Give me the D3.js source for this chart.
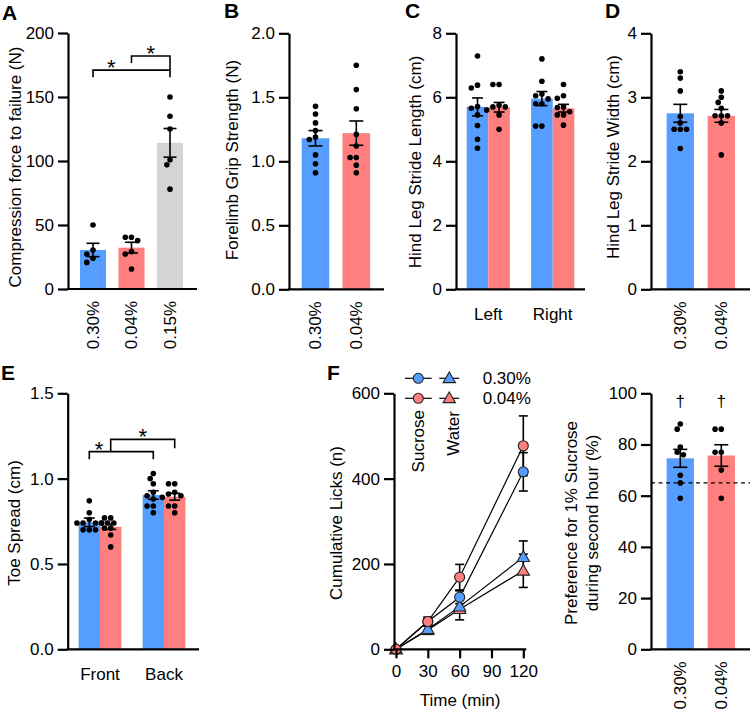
<!DOCTYPE html>
<html><head><meta charset="utf-8">
<script src="https://cdn.jsdelivr.net/npm/d3@7"></script>
<style>
body{margin:0;background:#fff}
svg{display:block}
text{font-family:"Liberation Sans",Arial,Helvetica,sans-serif;fill:#000}
</style>
</head><body>
<svg id="c" width="750" height="712"></svg>
<script>
// ---------------- DATA ----------------
const groupLabels = ["0.30%", "0.04%"];
// Panel A
const aCats = ["0.30%", "0.04%", "0.15%"];
const aMeans = [30.5, 32.3, 114.2];
const aSems = [5.2, 4.2, 11.2];
const aPts030 = [50, 30.5, 27.3, 24, 20.8];
const aPts004 = [40.4, 40.4, 37.8, 29.2, 27.3, 15.6];
const aPts015 = [150, 135, 125, 101, 97, 78];
const aTicks = [0, 50, 100, 150, 200];
// Panel B
const bMeans = [1.18, 1.22];
const bSems = [0.06, 0.095];
const bPts030 = [1.43, 1.37, 1.30, 1.24, 1.19, 1.17, 1.05, 0.98, 0.91];
const bPts004 = [1.75, 1.56, 1.41, 1.21, 1.12, 1.03, 1.03, 0.97, 0.91];
const bTicks = [0, 0.5, 1.0, 1.5, 2.0];
// Panel C
const cGroups = ["Left", "Right"];
const cMeans030 = [5.70, 5.96];
const cSems030 = [0.28, 0.22];
const cMeans004 = [5.69, 5.66];
const cSems004 = [0.15, 0.12];
const cPtsLeft030 = [7.29, 6.38, 6.29, 5.71, 5.66, 5.45, 5.12, 4.69, 4.41];
const cPtsLeft004 = [6.4, 6.4, 5.75, 5.7, 5.7, 5.6, 5.45, 5.0];
const cPtsRight030 = [7.2, 6.5, 6.1, 6.05, 5.95, 5.8, 5.8, 5.1, 5.1];
const cPtsRight004 = [6.4, 6.05, 5.97, 5.7, 5.68, 5.55, 5.45, 5.45, 5.13];
const cTicks = [0, 2, 4, 6, 8];
// Panel D
const dMeans = [2.75, 2.71];
const dSems = [0.14, 0.10];
const dPts030 = [3.4, 3.3, 3.1, 2.7, 2.6, 2.5, 2.5, 2.5, 2.2];
const dPts004 = [3.1, 3.0, 2.92, 2.83, 2.71, 2.71, 2.71, 2.6, 2.1];
const dTicks = [0, 1, 2, 3, 4];
// Panel E
const eGroups = ["Front", "Back"];
const eMeans030 = [0.744, 0.904];
const eSems030 = [0.025, 0.025];
const eMeans004 = [0.718, 0.894];
const eSems004 = [0.015, 0.02];
const ePtsFront030 = [0.87, 0.80, 0.76, 0.74, 0.74, 0.74, 0.74, 0.70, 0.70, 0.70];
const ePtsFront004 = [0.77, 0.77, 0.74, 0.74, 0.74, 0.71, 0.71, 0.67, 0.60];
const ePtsBack030 = [1.03, 1.0, 0.97, 0.92, 0.90, 0.88, 0.84, 0.84, 0.80];
const ePtsBack004 = [0.97, 0.97, 0.92, 0.91, 0.90, 0.89, 0.84, 0.84, 0.80];
const eTicks = [0, 0.5, 1.0, 1.5];
// Panel F (left)
const fTimes = [0, 30, 60, 120];
const sucrose030 = [0, 65, 122, 416];
const sucrose030Sem = [0, 10, 15, 45];
const sucrose004 = [0, 65, 169, 477];
const sucrose004Sem = [0, 10, 30, 70];
const water030 = [0, 47, 100, 216];
const water030Sem = [0, 10, 15, 38];
const water004 = [0, 45, 94, 184];
const water004Sem = [0, 10, 25, 39];
const fYTicks = [0, 200, 400, 600];
const fXTicks = [0, 30, 60, 90, 120];
// Panel F (right)
const pMeans = [74.6, 75.7];
const pSems = [3.5, 4.2];
const pPts030 = [88, 86, 79, 77, 76, 68, 65, 59];
const pPts004 = [86, 86, 77, 77, 70, 59];
const pChance = 65;
const pTicks = [0, 20, 40, 60, 80, 100];

// ---------------- STYLE ----------------
const BLUE = "#559dff", PINK = "#ff7f7f", GRAY = "#d4d4d4";
const FONT = '"Liberation Sans",Arial,Helvetica,sans-serif';
const FS = 17, AXW = 2.2, R = 2.8;
const svg = d3.select("#c");

function yAxis(x, scale, ticks, fmt) {
  const g = svg.append("g").attr("transform", `translate(${x},0)`)
    .call(d3.axisLeft(scale).tickValues(ticks).tickFormat(fmt).tickSize(10).tickPadding(4).tickSizeOuter(0));
  g.attr("font-family", FONT).attr("font-size", FS);
  g.select(".domain").attr("stroke-width", AXW).attr("stroke", "#000");
  g.selectAll(".tick line").attr("stroke-width", AXW).attr("stroke", "#000");
  g.selectAll(".tick text").attr("fill", "#000");
  return g;
}
function xLine(x0, x1, y) {
  svg.append("line").attr("x1", x0 - 1).attr("x2", x1).attr("y1", y).attr("y2", y)
    .attr("stroke", "#000").attr("stroke-width", AXW);
}
function yTitle(x, y, lines) {
  const t = svg.append("text").attr("transform", `translate(${x},${y}) rotate(-90)`)
    .attr("text-anchor", "middle").attr("font-size", FS);
  lines.forEach((l, i) => t.append("tspan").attr("x", 0).attr("dy", i === 0 ? (0.35 - (lines.length - 1) * 0.62) + "em" : "1.24em").text(l));
}
function letter(s, x, y) {
  svg.append("text").attr("x", x).attr("y", y).attr("font-size", 21).attr("font-weight", "bold").text(s);
}
function bar(cx, w, ys, v, color) {
  svg.append("rect").attr("x", cx - w / 2).attr("width", w)
    .attr("y", ys(v)).attr("height", ys(0) - ys(v)).attr("fill", color);
}
function err(cx, ys, m, s, cw) {
  const g = svg.append("g").attr("stroke", "#000").attr("stroke-width", 1.6);
  g.append("line").attr("x1", cx).attr("x2", cx).attr("y1", ys(m - s)).attr("y2", ys(m + s));
  [m - s, m + s].forEach(v => g.append("line").attr("x1", cx - cw / 2).attr("x2", cx + cw / 2).attr("y1", ys(v)).attr("y2", ys(v)));
}
function dots(cx, ys, vals) {
  const placed = [];
  const d = 2 * R + 0.6;
  const sorted = vals.slice().sort((a, b) => b - a);
  const cands = [0];
  for (let k = 1; k < 12; k++) { cands.push(-k * d / 2, k * d / 2); }
  sorted.forEach(v => {
    const y = ys(v);
    let off = 0;
    for (const c of cands) {
      if (placed.every(p => Math.hypot(p.x - c, p.y - y) >= 2 * R + 0.3)) { off = c; break; }
    }
    placed.push({ x: off, y: y });
  });
  svg.append("g").selectAll("circle").data(placed).join("circle")
    .attr("cx", p => cx + p.x).attr("cy", p => p.y).attr("r", R).attr("fill", "#000");
}
function rotLabel(x, y, s) {
  svg.append("text").attr("transform", `translate(${x},${y}) rotate(-90)`)
    .attr("text-anchor", "end").attr("dy", "0.35em").attr("font-size", FS).text(s);
}
function star(x, y) {
  svg.append("text").attr("x", x).attr("y", y).attr("text-anchor", "middle").attr("font-size", 22).text("*");
}
function path(pts) {
  svg.append("path").attr("d", d3.line()(pts)).attr("fill", "none").attr("stroke", "#000").attr("stroke-width", 1.6);
}

// ---------------- PANEL A ----------------
{
  const ys = d3.scaleLinear().domain([0, 200]).range([289, 33]);
  const xs = d3.scalePoint().domain(aCats).range([93, 170]);
  const W = 26, cols = [BLUE, PINK, GRAY], pts = [aPts030, aPts004, aPts015];
  aCats.forEach((c, i) => bar(xs(c), W, ys, aMeans[i], cols[i]));
  aCats.forEach((c, i) => dots(xs(c), ys, pts[i]));
  aCats.forEach((c, i) => err(xs(c), ys, aMeans[i], aSems[i], 13));
  xLine(68, 197, ys(0));
  yAxis(68, ys, aTicks, d3.format("d"));
  aCats.forEach(c => rotLabel(xs(c), ys(0) + 12, c));
  yTitle(15, 167, ["Compression force to failure (N)"]);
  letter("A", 2, 20);
  // significance brackets
  const x0 = xs(aCats[0]), x1 = xs(aCats[1]), x2 = xs(aCats[2]);
  const xm = (x0 + x2) / 2;
  path([[x0, ys(165.5)], [x0, ys(171)], [x2, ys(171)], [x2, ys(165.5)]]);
  path([[xm, ys(176.5)], [xm, ys(182)], [x2, ys(182)], [x2, ys(171)]]);
  star((x0 + xm) / 2 - 1, ys(171) + 5);
  star((xm + x2) / 2, ys(182) + 4.5);
}

// ---------------- PANEL B ----------------
{
  const ys = d3.scaleLinear().domain([0, 2]).range([289.3, 33.3]);
  const xs = d3.scalePoint().domain(groupLabels).range([315.5, 356.3]);
  const W = 27.6, cols = [BLUE, PINK], pts = [bPts030, bPts004];
  groupLabels.forEach((c, i) => bar(xs(c), W, ys, bMeans[i], cols[i]));
  groupLabels.forEach((c, i) => dots(xs(c), ys, pts[i]));
  groupLabels.forEach((c, i) => err(xs(c), ys, bMeans[i], bSems[i], 14));
  xLine(289, 384, ys(0));
  yAxis(289, ys, bTicks, d3.format(".1f"));
  groupLabels.forEach(c => rotLabel(xs(c), ys(0) + 12, c));
  yTitle(232.5, 160, ["Forelimb Grip Strength (N)"]);
  letter("B", 224, 18);
}

// ---------------- PANEL C ----------------
{
  const ys = d3.scaleLinear().domain([0, 8]).range([289.3, 33.3]);
  const xg = d3.scalePoint().domain(cGroups).range([488.3, 552.7]);
  const W = 21.6, off = W / 2;
  const m030 = cMeans030, m004 = cMeans004;
  const p030 = [cPtsLeft030, cPtsRight030], p004 = [cPtsLeft004, cPtsRight004];
  cGroups.forEach((g, i) => { bar(xg(g) - off, W, ys, m030[i], BLUE); bar(xg(g) + off, W, ys, m004[i], PINK); });
  cGroups.forEach((g, i) => { dots(xg(g) - off, ys, p030[i]); dots(xg(g) + off, ys, p004[i]); });
  cGroups.forEach((g, i) => { err(xg(g) - off, ys, m030[i], cSems030[i], 11); err(xg(g) + off, ys, m004[i], cSems004[i], 11); });
  xLine(456, 585, ys(0));
  yAxis(456, ys, cTicks, d3.format("d"));
  cGroups.forEach(g => svg.append("text").attr("x", xg(g)).attr("y", ys(0) + 31).attr("text-anchor", "middle").attr("font-size", FS).text(g));
  yTitle(415.5, 162, ["Hind Leg Stride Length (cm)"]);
  letter("C", 405, 18);
}

// ---------------- PANEL D ----------------
{
  const ys = d3.scaleLinear().domain([0, 4]).range([289.3, 33.3]);
  const xs = d3.scalePoint().domain(groupLabels).range([680.3, 721.3]);
  const W = 27.3, cols = [BLUE, PINK], pts = [dPts030, dPts004];
  groupLabels.forEach((c, i) => bar(xs(c), W, ys, dMeans[i], cols[i]));
  groupLabels.forEach((c, i) => dots(xs(c), ys, pts[i]));
  groupLabels.forEach((c, i) => err(xs(c), ys, dMeans[i], dSems[i], 14));
  xLine(651, 750, ys(0));
  yAxis(651, ys, dTicks, d3.format("d"));
  groupLabels.forEach(c => rotLabel(xs(c), ys(0) + 12, c));
  yTitle(613, 157, ["Hind Leg Stride Width (cm)"]);
  letter("D", 605, 18);
}

// ---------------- PANEL E ----------------
{
  const ys = d3.scaleLinear().domain([0, 1.5]).range([649.3, 393.3]);
  const xg = d3.scalePoint().domain(eGroups).range([100, 164]);
  const W = 21.4, off = W / 2;
  const p030 = [ePtsFront030, ePtsBack030], p004 = [ePtsFront004, ePtsBack004];
  eGroups.forEach((g, i) => { bar(xg(g) - off, W, ys, eMeans030[i], BLUE); bar(xg(g) + off, W, ys, eMeans004[i], PINK); });
  eGroups.forEach((g, i) => { dots(xg(g) - off, ys, p030[i]); dots(xg(g) + off, ys, p004[i]); });
  eGroups.forEach((g, i) => { err(xg(g) - off, ys, eMeans030[i], eSems030[i], 11); err(xg(g) + off, ys, eMeans004[i], eSems004[i], 11); });
  xLine(67.7, 199, ys(0));
  yAxis(67.7, ys, eTicks, d3.format(".1f"));
  eGroups.forEach(g => svg.append("text").attr("x", xg(g)).attr("y", ys(0) + 31).attr("text-anchor", "middle").attr("font-size", FS).text(g));
  yTitle(14.5, 523, ["Toe Spread (cm)"]);
  letter("E", 1, 380);
  const b1 = xg(eGroups[0]) - off, b2 = xg(eGroups[1]) - off;
  const q1 = xg(eGroups[0]) + off, q2 = xg(eGroups[1]) + off;
  path([[b1, ys(1.113)], [b1, ys(1.158)], [b2, ys(1.158)], [b2, ys(1.113)]]);
  path([[q1, ys(1.158)], [q1, ys(1.230)], [q2, ys(1.230)], [q2, ys(1.178)]]);
  star((b1 + q1) / 2 - 1, ys(1.158) + 5);
  star((q1 + q2) / 2, ys(1.230) + 4.5);
}

// ---------------- PANEL F (left) ----------------
{
  const ys = d3.scaleLinear().domain([0, 600]).range([649.3, 393.3]);
  const xs = d3.scaleLinear().domain([0, 120]).range([396, 523.3]);
  const series = [
    { m: sucrose030, s: sucrose030Sem, c: BLUE, sym: "circle" },
    { m: sucrose004, s: sucrose004Sem, c: PINK, sym: "circle" },
    { m: water030, s: water030Sem, c: BLUE, sym: "tri" },
    { m: water004, s: water004Sem, c: PINK, sym: "tri" }
  ];
  const line = d3.line().x((d, i) => xs(fTimes[i])).y(d => ys(d));
  series.forEach(sr => svg.append("path").attr("d", line(sr.m)).attr("fill", "none").attr("stroke", "#000").attr("stroke-width", 1.2));
  series.forEach(sr => sr.m.forEach((v, i) => { if (sr.s[i] > 0) err(xs(fTimes[i]), ys, v, sr.s[i], 9); }));
  const marker = (x, y, sr) => {
    if (sr.sym === "circle") svg.append("circle").attr("cx", x).attr("cy", y).attr("r", 5).attr("fill", sr.c).attr("stroke", "#222").attr("stroke-width", 1.1);
    else svg.append("path").attr("d", d3.symbol(d3.symbolTriangle, 66)()).attr("transform", `translate(${x},${y + 0.8})`).attr("fill", sr.c).attr("stroke", "#222").attr("stroke-width", 1.1);
  };
  [3, 2, 0, 1].forEach(k => series[k].m.forEach((v, i) => marker(xs(fTimes[i]), ys(v), series[k])));
  const xg = svg.append("g").attr("transform", `translate(0,${ys(0)})`)
    .call(d3.axisBottom(xs).tickValues(fXTicks).tickSize(9).tickPadding(7).tickSizeOuter(0));
  xg.attr("font-family", FONT).attr("font-size", FS);
  xg.select(".domain").attr("d", `M393,0H${xs(120) + 3}`).attr("stroke-width", AXW);
  xg.selectAll(".tick line").attr("stroke-width", AXW);
  yAxis(394, ys, fYTicks, d3.format("d"));
  svg.append("text").attr("x", 460).attr("y", 706).attr("text-anchor", "middle").attr("font-size", FS).text("Time (min)");
  yTitle(336.5, 523, ["Cumulative Licks (n)"]);
  letter("F", 327, 380);
  // legend
  const rows = [{ c: BLUE, t: "0.30%", y: 378.3 }, { c: PINK, t: "0.04%", y: 398.3 }];
  rows.forEach(r => {
    svg.append("line").attr("x1", 405).attr("x2", 431.7).attr("y1", r.y).attr("y2", r.y).attr("stroke", "#000").attr("stroke-width", 1.2);
    svg.append("line").attr("x1", 439.3).attr("x2", 459.3).attr("y1", r.y).attr("y2", r.y).attr("stroke", "#000").attr("stroke-width", 1.2);
    marker(418.3, r.y, { c: r.c, sym: "circle" });
    marker(449.3, r.y, { c: r.c, sym: "tri" });
    svg.append("text").attr("x", 482.7).attr("y", r.y).attr("dy", "0.35em").attr("font-size", FS).text(r.t);
  });
  rotLabel(418.3, 410, "Sucrose");
  rotLabel(453, 411, "Water");
}

// ---------------- PANEL F (right) ----------------
{
  const ys = d3.scaleLinear().domain([0, 100]).range([649.3, 393.3]);
  const xs = d3.scalePoint().domain(groupLabels).range([680.3, 721.3]);
  const W = 27.3, cols = [BLUE, PINK], pts = [pPts030, pPts004];
  groupLabels.forEach((c, i) => bar(xs(c), W, ys, pMeans[i], cols[i]));
  svg.append("line").attr("x1", 651).attr("x2", 750).attr("y1", ys(pChance)).attr("y2", ys(pChance))
    .attr("stroke", "#000").attr("stroke-width", 1.3).attr("stroke-dasharray", "4,3.5");
  groupLabels.forEach((c, i) => dots(xs(c), ys, pts[i]));
  groupLabels.forEach((c, i) => err(xs(c), ys, pMeans[i], pSems[i], 14));
  groupLabels.forEach(c => svg.append("text").attr("x", xs(c)).attr("y", ys(94.6)).attr("text-anchor", "middle").attr("font-size", FS).text("†"));
  xLine(651, 750, ys(0));
  yAxis(651, ys, pTicks, d3.format("d"));
  groupLabels.forEach(c => rotLabel(xs(c), ys(0) + 12, c));
  yTitle(581.5, 523, ["Preference for 1% Sucrose", "during second hour (%)"]);
}
</script>
</body></html>
